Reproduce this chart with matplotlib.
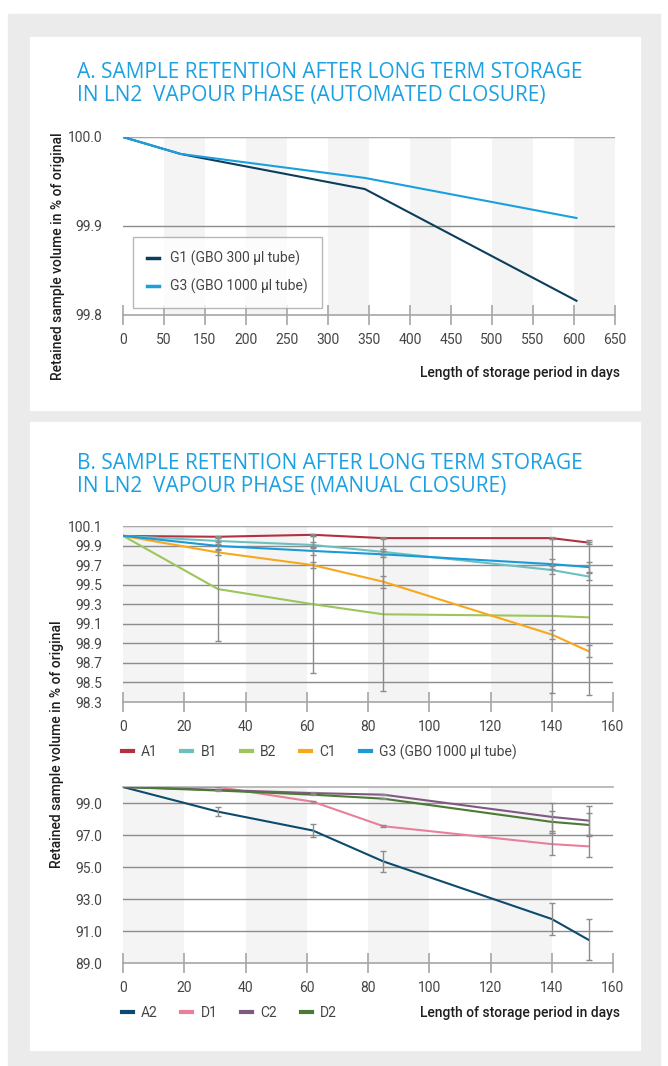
import numpy as np
import matplotlib.pyplot as plt
from matplotlib.patches import Rectangle

W, H = 668, 1066

# chart A: automated closure (x axis is labelled with these values, evenly spaced)
a_ticks = [0, 50, 150, 200, 250, 300, 350, 400, 450, 500, 550, 600, 650]
a_days = [0, 90, 345, 603]
g1_a = [100.0, 99.981, 99.9415, 99.816]
g3_a = [100.0, 99.981, 99.954, 99.909]
a_yticks = [99.8, 99.9, 100.0]

# chart B: manual closure
b_days = [0, 31, 62, 85, 140, 152]
b_xticks = [0, 20, 40, 60, 80, 100, 120, 140, 160]

a1 = [99.998, 99.99, 100.01, 99.976, 99.976, 99.93]
b1 = [99.998, 99.947, 99.906, 99.835, 99.65, 99.584]
b2 = [100.0, 99.455, 99.30, 99.197, 99.18, 99.166]
c1 = [100.0, 99.83, 99.70, 99.53, 98.99, 98.82]
g3_b = [100.0, 99.896, 99.845, 99.81, 99.71, 99.68]
a1_err = [0, 0.01, 0.01, 0.01, 0.01, 0.01]
b1_err = [0, 0.03, 0.03, 0.03, 0.04, 0.04]
b2_err = [0, 0.53, 0.70, 0.78, 0.79, 0.79]
c1_err = [0, 0.03, 0.03, 0.06, 0.05, 0.06]
g3_err = [0, 0.04, 0.04, 0.03, 0.05, 0.05]
top_yticks = [98.3, 98.5, 98.7, 98.9, 99.1, 99.3, 99.5, 99.7, 99.9, 100.1]

a2 = [100.0, 98.46, 97.28, 95.35, 91.75, 90.45]
d1 = [100.0, 100.0, 99.08, 97.55, 96.43, 96.29]
c2 = [100.0, 99.82, 99.62, 99.52, 98.13, 97.90]
d2 = [100.0, 99.78, 99.52, 99.27, 97.82, 97.63]
a2_err = [0, 0.28, 0.38, 0.66, 1.00, 1.27]
d1_err = [0, 0.02, 0.05, 0.08, 0.70, 0.69]
c2_err = [0, 0.02, 0.05, 0.05, 0.88, 0.93]
d2_err = [0, 0.02, 0.03, 0.05, 0.69, 0.72]
bot_yticks = [89.0, 91.0, 93.0, 95.0, 97.0, 99.0]
bot_ymax = 100.0

plt.rcParams['font.family'] = ['Roboto', 'DejaVu Sans']
TXT = '#454545'
LAB = '#1e1e1e'
TITLE = '#1ba1e2'
GRID = '#8c8c8c'
AXC = '#a6a6a6'
TFONT = dict(color=TITLE, fontsize=15, family=['Open Sans', 'DejaVu Sans'])
LFONT = dict(fontsize=10, fontweight='medium', color=LAB)

fig = plt.figure(figsize=(W / 100, H / 100), dpi=100)
fig.patches.append(Rectangle((8 / W, 0), 652 / W, 1 - 14 / H, transform=fig.transFigure,
                             color='#ebebeb', zorder=-10))
for top, bot in [(37, 410), (422, 1050)]:
    fig.patches.append(Rectangle((30 / W, 1 - bot / H), 610 / W, (bot - top) / H,
                                 transform=fig.transFigure, color='white', zorder=-9))


def px_axes(x0, x1, y0, y1):
    return fig.add_axes([x0 / W, 1 - y1 / H, (x1 - x0) / W, (y1 - y0) / H])


def style(ax, xticks, xlabels, yticks, ylabels, ymax, bands):
    ax.set_facecolor('none')
    for s in ['left', 'right', 'top']:
        ax.spines[s].set_visible(False)
    ax.spines['bottom'].set_color(AXC)
    ax.spines['bottom'].set_linewidth(1.2)
    ax.set_xticks(xticks)
    ax.set_xticklabels(xlabels)
    ax.set_yticks(yticks)
    ax.set_yticklabels(ylabels)
    ax.set_ylim(yticks[0], ymax)
    ax.tick_params(axis='x', direction='inout', length=14, width=1.2, color=AXC,
                   pad=6, labelsize=10, labelcolor=TXT)
    ax.tick_params(axis='y', length=0, pad=15, labelsize=10, labelcolor=TXT)
    for x0, x1 in bands:
        ax.axvspan(x0, x1, color='#f4f4f4', zorder=0, lw=0)
    for y in yticks[1:]:
        ax.axhline(y, color=GRID, lw=1, zorder=1)
    if ymax > yticks[-1]:
        ax.axhline(ymax, color='#b0b0b0', lw=1.2, zorder=1, clip_on=False)


# ---------------- A ----------------
fig.text(77 / W, 1 - 78 / H, 'A. SAMPLE RETENTION AFTER LONG TERM STORAGE', **TFONT)
fig.text(77 / W, 1 - 101 / H, 'IN LN2  VAPOUR PHASE (AUTOMATED CLOSURE)', **TFONT)

axA = px_axes(123, 615, 137, 315)
idx = np.arange(len(a_ticks))
xa = np.interp(a_days, a_ticks, idx)
style(axA, idx, [str(t) for t in a_ticks], a_yticks,
      ['%.1f' % v for v in a_yticks], a_yticks[-1],
      [(i, i + 1) for i in range(1, len(a_ticks) - 1, 2)])
axA.set_xlim(0, len(a_ticks) - 1)
axA.axhline(a_yticks[-1], color='#b0b0b0', lw=1.2, zorder=1)
axA.plot(xa, g1_a, color='#0d3d5c', lw=1.5, zorder=3, label='G1 (GBO 300 µl tube)')
axA.plot(xa, g3_a, color='#1aa0e0', lw=1.5, zorder=3, label='G3 (GBO 1000 µl tube)')
legA = axA.legend(loc='upper left', bbox_to_anchor=(10 / 492, 1 - 100 / 178),
                  borderaxespad=0, fontsize=10, handlelength=0.9, handletextpad=0.8,
                  labelspacing=0.9, borderpad=1.0, fancybox=False, edgecolor='#a6a6a6',
                  labelcolor=TXT)
legA.get_frame().set_linewidth(1)
for h in legA.get_lines():
    h.set_linewidth(2.5)

fig.text(58 / W, 1 - 256 / H, 'Retained sample volume in % of original', rotation=90,
         ha='center', va='center', **LFONT)
fig.text(620 / W, 1 - 373 / H, 'Length of storage period in days', ha='right',
         va='center', **LFONT)

# ---------------- B ----------------
fig.text(77 / W, 1 - 469 / H, 'B. SAMPLE RETENTION AFTER LONG TERM STORAGE', **TFONT)
fig.text(77 / W, 1 - 492 / H, 'IN LN2  VAPOUR PHASE (MANUAL CLOSURE)', **TFONT)

bands_b = [(0, 20), (40, 60), (80, 100), (120, 140)]
ebar = dict(fmt='none', ecolor='#8c8c8c', elinewidth=1, capsize=2, capthick=1, zorder=4)

axT = px_axes(123, 613, 526, 702)
style(axT, b_xticks, [str(t) for t in b_xticks], top_yticks,
      ['%.1f' % v for v in top_yticks], top_yticks[-1], bands_b)
axT.axhline(top_yticks[-1], color='#b0b0b0', lw=1.2, zorder=1)
axT.set_xlim(0, 160)
top_series = [('A1', a1, a1_err, '#b23040'), ('B1', b1, b1_err, '#6cc0c0'),
              ('B2', b2, b2_err, '#9cc65a'), ('C1', c1, c1_err, '#f8a81c'),
              ('G3 (GBO 1000 µl tube)', g3_b, g3_err, '#1a9ad8')]
for name, vals, err, col in top_series:
    axT.plot(b_days, vals, color=col, lw=1.5, zorder=3, label=name)
for name, vals, err, col in top_series:
    axT.errorbar(b_days[1:], vals[1:], yerr=err[1:], **ebar)
legT = axT.legend(loc='center left', bbox_to_anchor=(-14 / 490, -50 / 176), ncol=5,
                  frameon=False, fontsize=10, handlelength=0.8, handletextpad=0.6,
                  columnspacing=1.7, labelcolor=TXT)
for h in legT.get_lines():
    h.set_linewidth(3)

axB = px_axes(123, 613, 787, 963)
style(axB, b_xticks, [str(t) for t in b_xticks], bot_yticks,
      ['%.1f' % v for v in bot_yticks], bot_ymax, bands_b)
axB.set_xlim(0, 160)
bot_series = [('A2', a2, a2_err, '#0d4a6e'), ('D1', d1, d1_err, '#e8809c'),
              ('C2', c2, c2_err, '#7e5a80'), ('D2', d2, d2_err, '#4a7a34')]
for name, vals, err, col in bot_series:
    axB.plot(b_days, vals, color=col, lw=1.5, zorder=3, label=name)
for name, vals, err, col in bot_series:
    axB.errorbar(b_days[1:], vals[1:], yerr=err[1:], **ebar)
legB = axB.legend(loc='center left', bbox_to_anchor=(-14 / 490, -50 / 176), ncol=4,
                  frameon=False, fontsize=10, handlelength=0.8, handletextpad=0.6,
                  columnspacing=1.7, labelcolor=TXT)
for h in legB.get_lines():
    h.set_linewidth(3)

fig.text(57 / W, 1 - 744 / H, 'Retained sample volume in % of original', rotation=90,
         ha='center', va='center', **LFONT)
fig.text(620 / W, 1 - 1013 / H, 'Length of storage period in days', ha='right',
         va='center', **LFONT)

fig.savefig('out.png', dpi=100, facecolor='white')
